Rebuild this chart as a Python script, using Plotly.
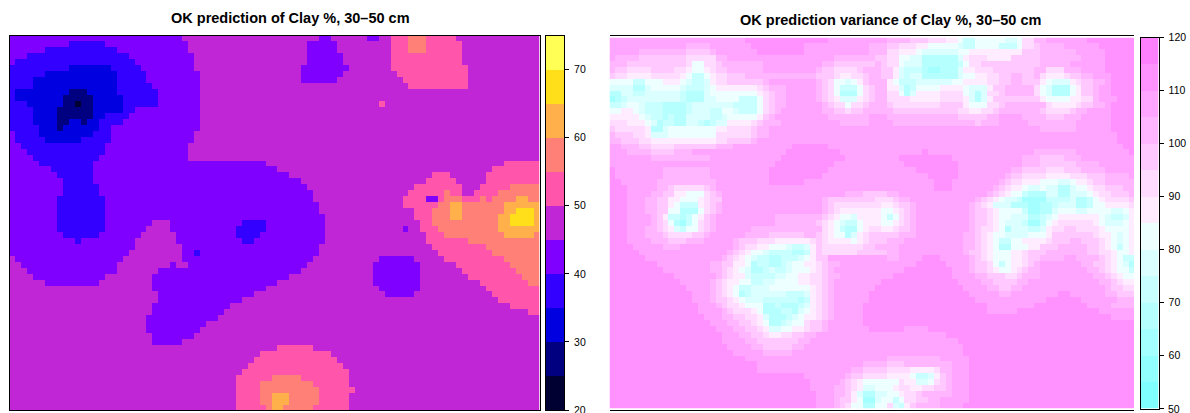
import plotly.graph_objects as go

W, H = 1190, 413
N_COLS = 89

# Band colours
PRED_BREAKS = [20, 25, 30, 35, 40, 45, 50, 55, 60, 65, 70, 75]
PRED_COLORS = ["#000033", "#000080", "#0000E0", "#3300FF", "#8000FF", "#C126D6",
               "#FF55AA", "#FF8077", "#FFB04A", "#FFDF1A", "#FFFF55"]
VAR_BREAKS = [50, 55, 60, 65, 70, 75, 80, 85, 90, 95, 100, 105, 110, 115, 120]
VAR_COLORS = ["#80FFFF", "#92FFFF", "#A4FFFF", "#B6FFFF", "#C8FFFF", "#DBFFFF", "#EDFFFF",
              "#FFEDFF", "#FFDBFF", "#FFC8FF", "#FFB6FF", "#FFA4FF", "#FF92FF", "#FF80FF"]

PRED_TITLE = "OK prediction of Clay %, 30–50 cm"
VAR_TITLE = "OK prediction variance of Clay %, 30–50 cm"
PRED_TICKS = [20, 30, 40, 50, 60, 70]
VAR_TICKS = [50, 60, 70, 80, 90, 100, 110, 120]

# Each token is band:end-column (band 0 = lowest class)
PRED_ROWS = [
"4:29 5:52 4:54 5:60 4:62 5:64 6:67 7:70 6:75 5:89",
"4:10 3:16 4:30 5:50 4:55 5:64 6:67 7:70 6:76 5:89",
"4:6 3:18 4:30 5:50 4:55 5:64 6:67 7:70 6:76 5:89",
"4:3 3:20 4:31 5:50 4:56 5:64 6:76 5:89",
"4:1 3:21 4:31 5:50 4:56 5:64 6:76 5:89",
"3:10 2:17 3:22 4:31 5:49 4:57 5:64 6:77 5:89",
"3:6 2:18 3:23 4:32 5:49 4:56 5:65 6:77 5:89",
"3:4 2:18 3:23 4:32 5:49 4:55 5:66 6:77 5:89",
"3:4 2:18 3:24 4:32 5:67 6:77 5:89",
"3:1 2:10 1:13 2:18 3:25 4:32 5:89",
"3:1 2:9 1:14 2:19 3:25 4:32 5:89",
"3:3 2:9 1:11 0:12 1:14 2:19 3:25 4:32 5:62 6:63 5:89",
"3:4 2:8 1:14 2:19 3:21 4:32 5:89",
"3:4 2:8 1:14 2:16 3:20 4:32 5:89",
"3:4 2:8 1:10 2:12 1:13 2:15 3:19 4:32 5:89",
"3:5 2:8 1:9 2:15 3:17 4:32 5:89",
"4:1 3:5 2:14 3:17 4:31 5:89",
"4:1 3:6 2:12 3:17 4:31 5:89",
"4:2 3:16 4:30 5:89",
"4:3 3:16 4:30 5:89",
"4:4 3:15 4:30 5:89",
"4:5 3:14 4:43 5:83 6:89",
"4:7 3:14 4:45 5:81 6:89",
"4:8 3:14 4:47 5:71 6:74 5:80 6:89",
"4:9 3:14 4:49 5:70 6:75 5:80 6:89",
"4:9 3:15 4:50 5:68 6:76 5:79 6:84 7:89",
"4:9 3:15 4:51 5:67 6:73 7:74 6:76 5:78 6:82 7:89",
"4:8 3:16 4:51 5:66 6:70 4:72 6:73 7:76 6:79 7:80 6:81 7:85 8:87 7:89",
"4:8 3:16 4:52 5:66 6:72 7:74 8:76 7:83 8:89",
"4:8 3:16 4:52 5:68 6:71 7:74 8:76 7:83 8:85 9:88 8:89",
"4:8 3:16 4:53 5:68 6:71 7:74 8:76 7:82 8:84 9:88 8:89",
"4:8 3:16 4:24 5:27 4:39 3:43 4:53 5:69 6:71 7:82 8:84 9:88 8:89",
"4:8 3:16 4:23 5:27 4:38 3:43 4:53 5:66 4:67 5:69 6:72 7:82 8:89",
"4:9 3:15 4:22 5:28 4:38 3:42 4:53 5:70 6:73 7:83 8:88 7:89",
"4:11 3:12 4:21 5:28 4:39 3:41 4:53 5:70 6:77 7:89",
"4:21 5:29 4:52 5:71 6:80 7:89",
"4:20 5:29 4:31 3:32 4:52 5:72 6:81 7:89",
"5:1 4:19 5:29 4:51 5:62 4:68 5:73 6:83 7:89",
"5:2 4:18 5:27 4:28 5:30 4:50 5:61 4:69 5:75 6:84 7:89",
"5:3 4:18 5:25 4:49 5:61 4:69 5:76 6:85 7:89",
"5:4 4:16 5:24 4:47 5:61 4:69 5:77 6:86 7:89",
"5:6 4:15 5:24 4:45 5:61 4:69 5:79 6:87 7:89",
"5:24 4:43 5:62 4:69 5:80 6:89",
"5:25 4:41 5:63 4:68 5:81 6:89",
"5:25 4:39 5:82 6:89",
"5:24 4:37 5:84 6:89",
"5:24 4:36 5:87 6:89",
"5:23 4:35 5:89",
"5:23 4:33 5:89",
"5:23 4:32 5:89",
"5:24 4:31 5:89",
"5:24 4:29 5:89",
"5:45 6:51 5:89",
"5:42 6:54 5:89",
"5:41 6:55 5:89",
"5:40 6:56 5:89",
"5:39 6:57 5:89",
"5:38 6:44 7:49 6:57 5:89",
"5:38 6:42 7:51 6:57 5:89",
"5:38 6:42 7:52 6:58 5:89",
"5:38 6:42 7:44 8:47 7:52 6:57 5:89",
"5:38 6:42 7:44 8:47 7:52 6:57 5:89",
"5:38 6:43 7:44 8:46 7:51 6:57 5:89",
]

VAR_ROWS = [
"b:23 c:37 b:47 a:51 9:54 8:57 7:59 6:60 4:62 6:67 5:69 6:70 8:72 a:74 b:81 c:89",
"b:13 a:17 b:24 c:33 b:44 a:47 9:49 8:52 7:54 6:59 5:60 4:62 6:66 4:69 6:70 8:72 9:73 a:77 b:83 c:89",
"b:5 a:13 9:17 a:18 b:25 c:33 b:44 a:47 8:49 7:52 6:53 5:59 6:61 7:70 9:73 a:79 b:84 c:89",
"b:1 a:5 9:13 8:18 a:20 b:38 a:45 9:47 8:49 6:51 5:53 3:59 5:60 7:61 8:64 7:68 9:73 a:80 b:84 c:89",
"a:3 9:13 8:14 6:16 8:18 9:19 a:26 b:36 a:38 9:45 a:46 9:47 8:49 6:50 5:53 3:59 4:60 6:61 8:63 9:73 a:78 b:84 c:89",
"a:1 9:3 8:7 9:11 8:13 7:14 6:16 7:17 8:18 9:20 a:26 b:35 a:36 9:38 8:42 9:43 a:46 9:48 7:49 5:50 4:53 3:54 2:56 3:59 5:60 7:62 8:65 9:72 a:74 8:77 a:80 b:84 c:89",
"9:1 8:3 7:7 8:12 7:13 6:14 4:16 6:17 7:18 8:20 9:23 a:35 9:38 8:39 7:41 8:43 9:44 a:46 9:48 7:49 5:50 4:51 5:53 3:59 5:60 6:62 7:64 8:66 9:68 a:70 9:72 a:73 8:74 7:77 8:78 9:80 a:82 b:85 c:89",
"6:4 4:6 6:9 7:12 6:13 5:14 4:16 5:17 7:18 8:20 9:26 a:27 b:35 a:36 9:37 8:38 6:40 5:41 6:42 7:43 9:44 a:47 7:48 6:49 4:52 5:58 6:60 7:64 8:66 9:68 a:70 9:73 7:74 6:75 5:78 7:79 8:80 9:82 a:84 b:85 c:89",
"5:4 3:6 5:7 6:12 5:13 4:16 5:17 6:18 7:25 8:26 9:27 a:30 b:35 a:36 9:37 8:38 6:39 4:42 6:43 8:44 9:45 a:47 7:49 5:50 3:51 4:52 6:56 7:60 6:61 5:64 7:65 9:67 a:72 8:73 6:74 5:75 3:78 6:79 7:80 9:82 a:83 b:85 c:89",
"3:2 5:4 4:6 5:12 4:13 3:16 5:17 6:25 7:26 8:27 9:28 a:30 b:35 a:36 9:37 8:38 6:39 3:42 6:43 8:44 9:45 a:47 8:49 6:50 3:51 5:52 7:56 8:60 6:61 5:62 3:63 5:64 8:66 9:67 a:72 8:73 6:74 5:75 3:78 6:79 7:80 9:82 a:83 b:85 c:89",
"2:1 3:2 4:3 5:12 4:13 3:16 5:18 6:22 4:25 6:26 8:27 9:28 a:30 b:35 a:36 9:37 8:38 7:39 5:42 7:43 8:44 9:45 a:47 8:51 7:56 8:60 7:61 5:62 3:63 5:64 7:65 9:73 7:74 6:78 7:80 8:82 9:82 a:83 b:86 c:89",
"4:2 5:3 6:5 5:6 4:9 3:13 4:14 5:21 4:25 6:26 8:27 9:28 a:30 b:36 a:37 9:38 8:40 6:41 8:43 9:44 a:47 9:48 8:56 9:60 7:61 6:64 8:66 9:67 a:74 8:75 7:79 8:80 9:82 a:84 b:85 c:89",
"6:2 7:4 6:5 5:6 4:9 3:13 4:14 5:17 4:19 6:21 5:22 4:25 6:26 8:27 9:28 a:29 b:36 a:38 9:40 8:41 9:43 a:48 9:59 8:61 7:63 8:65 9:66 a:73 9:74 8:78 9:79 a:81 b:85 c:89",
"7:5 6:6 5:7 4:9 3:10 4:11 3:13 5:17 4:19 5:20 6:25 7:26 9:27 a:28 b:37 a:44 b:47 a:59 9:64 a:66 b:70 a:74 9:77 a:80 b:85 c:89",
"8:3 7:6 6:7 5:8 3:9 4:11 3:13 5:15 4:16 3:17 4:18 5:20 7:24 8:25 9:26 a:29 b:39 a:44 b:48 a:62 9:63 a:66 b:71 a:79 b:85 c:89",
"9:1 8:6 7:7 3:9 5:10 6:18 7:20 8:24 9:25 a:27 b:73 a:79 b:85 c:89",
"a:1 9:4 8:6 7:7 5:10 6:18 8:24 9:25 a:27 b:86 c:89",
"a:2 9:5 8:7 7:18 8:20 9:24 a:25 b:86 c:89",
"b:2 a:5 9:7 8:11 9:18 a:21 b:31 c:37 b:87 c:89",
"b:3 a:7 9:11 a:14 b:30 c:39 b:53 c:54 b:72 a:79 b:88 c:89",
"b:7 a:17 b:29 c:40 b:49 c:58 b:70 a:73 9:77 a:80 b:89",
"b:28 c:38 b:50 c:59 b:70 a:73 9:79 a:83 b:89",
"c:1 b:9 a:17 b:27 c:37 b:52 c:59 b:68 a:70 9:74 8:77 9:80 a:84 b:89",
"c:1 b:9 a:17 b:27 c:36 b:54 c:59 b:67 a:68 9:70 8:74 7:78 8:81 9:84 a:88 b:89",
"c:2 b:8 a:18 b:27 c:33 b:55 c:58 b:66 a:67 9:68 8:70 7:73 6:76 5:78 6:79 7:81 8:82 9:84 a:89",
"c:3 b:8 a:10 9:11 8:16 9:17 a:18 b:55 c:58 b:65 a:66 9:67 8:68 7:70 6:71 5:73 6:74 5:76 3:78 5:79 6:81 7:82 8:84 9:87 a:89",
"c:3 b:7 a:9 9:11 7:13 6:16 8:17 9:18 a:19 b:40 a:43 9:47 a:49 b:64 a:65 9:66 8:67 7:68 6:70 4:71 3:74 5:76 3:78 5:81 6:82 7:83 8:85 9:88 a:89",
"c:3 b:6 a:8 9:10 7:12 6:15 7:16 8:17 9:19 b:36 a:37 9:45 8:48 9:49 a:51 b:62 a:63 9:64 8:65 7:66 6:67 5:69 4:70 2:74 4:78 5:79 3:81 4:82 6:83 7:84 8:88 9:89",
"c:3 b:6 a:8 9:10 7:11 6:12 4:15 7:16 8:17 9:18 a:19 b:36 a:37 9:38 8:46 7:48 8:49 9:51 a:52 b:61 a:62 9:63 8:64 7:65 5:68 3:71 2:73 3:75 4:76 5:79 3:81 4:82 6:84 7:88 8:89",
"c:3 b:6 a:8 9:10 6:12 3:15 6:16 8:17 9:18 a:19 b:36 a:37 9:38 8:39 7:46 6:48 7:49 8:50 9:51 a:52 b:61 a:62 9:64 8:65 7:66 6:70 4:71 2:73 3:75 5:76 6:79 5:81 6:85 5:87 6:88 7:89",
"c:3 b:7 a:8 9:9 7:10 4:12 3:13 4:14 6:15 7:16 9:17 a:18 b:28 a:36 9:37 8:38 7:39 6:41 5:42 7:46 6:47 4:48 6:49 8:50 9:51 a:52 b:61 a:62 9:64 8:65 7:66 6:68 5:71 3:73 4:74 5:75 6:76 7:83 6:84 5:85 4:87 5:88 7:89",
"c:3 b:7 a:8 9:9 8:10 6:11 3:12 2:13 4:14 6:15 8:16 9:17 a:18 b:28 a:35 9:36 8:37 7:38 6:39 5:40 4:42 6:43 7:46 6:48 7:49 8:50 9:51 a:52 b:61 a:62 9:64 8:65 7:66 6:67 5:70 4:71 2:73 4:74 6:75 7:76 8:82 7:83 6:84 5:87 6:88 7:89",
"c:3 b:6 a:8 9:9 8:10 7:11 5:12 4:13 6:15 8:16 9:17 a:18 b:24 a:36 8:37 7:38 6:39 4:40 3:42 6:43 7:44 8:46 7:48 8:49 9:51 a:52 b:61 a:62 9:63 8:65 7:66 6:67 3:68 5:71 4:73 5:74 7:75 8:77 9:79 8:83 7:84 6:88 7:89",
"c:3 b:6 a:9 9:10 8:14 9:16 a:17 b:23 a:27 9:33 a:35 9:36 8:37 7:38 6:40 3:41 5:42 7:43 8:44 9:49 a:52 b:60 a:62 9:63 8:64 7:65 6:67 5:71 6:74 7:75 9:82 8:83 7:85 6:86 5:87 6:88 7:89",
"c:3 b:7 a:10 9:13 a:16 b:21 a:22 9:25 8:28 7:34 8:35 9:36 8:37 7:41 6:42 7:43 8:44 9:47 a:50 b:60 a:62 9:63 8:64 7:65 6:66 4:68 6:70 7:74 8:75 9:78 a:80 9:83 8:84 7:85 6:86 5:87 6:88 7:89",
"c:4 b:9 a:12 b:21 a:22 9:23 8:25 7:27 6:30 5:31 4:33 5:34 7:35 9:36 8:43 9:45 a:49 b:60 a:62 9:63 8:64 7:65 6:66 3:68 6:71 7:73 9:76 a:81 9:83 8:84 7:85 6:86 4:87 6:88 7:89",
"c:5 b:20 a:21 9:22 8:23 7:24 6:26 5:27 4:31 3:33 4:34 7:35 9:36 8:42 9:47 a:49 b:60 a:61 9:63 8:64 7:65 6:68 7:70 8:71 9:74 a:81 9:83 8:85 7:86 6:88 7:89",
"c:6 b:19 a:20 9:21 8:22 7:23 6:24 5:25 4:27 3:29 4:32 5:33 6:34 7:35 9:37 b:47 a:49 b:53 c:56 b:61 a:62 9:63 8:64 7:65 6:68 7:70 8:71 9:73 a:77 b:79 a:83 9:84 8:85 7:86 6:87 4:89",
"c:8 b:17 a:19 9:21 7:23 6:24 3:25 4:27 3:29 4:30 5:31 6:33 7:35 8:36 9:37 a:39 b:52 c:57 b:61 a:62 9:64 8:65 6:66 4:67 6:68 7:70 8:71 9:72 a:73 b:80 a:82 9:84 8:85 7:86 6:87 5:88 3:89",
"c:9 b:17 a:19 9:20 8:21 7:22 6:23 5:24 3:26 4:27 5:28 4:30 5:31 6:34 7:35 8:36 9:37 a:38 b:50 c:58 b:61 a:62 9:64 8:65 7:66 6:68 7:69 8:70 9:71 a:73 b:81 a:83 9:84 8:85 7:86 6:88 4:89",
"c:11 b:18 a:19 9:20 8:21 7:23 5:24 4:28 5:30 6:32 7:34 8:36 9:37 a:39 b:48 c:58 b:62 a:64 9:67 8:69 9:70 a:73 b:82 a:84 9:85 8:86 7:87 6:89",
"c:12 b:17 a:18 9:19 8:20 7:22 6:24 4:26 5:28 6:32 7:34 8:36 9:37 a:38 b:46 c:59 b:63 a:65 9:69 a:71 b:83 a:85 9:86 8:87 7:89",
"c:13 b:17 a:18 9:19 8:20 7:21 6:22 4:24 5:27 6:34 7:35 8:36 9:37 a:38 b:45 c:60 b:64 a:66 9:68 a:70 b:84 a:85 9:87 8:89",
"c:14 b:17 a:18 9:19 8:20 7:21 6:22 3:23 4:24 5:30 4:33 5:34 7:35 8:36 9:37 a:38 b:44 c:61 b:66 a:68 b:76 c:78 b:84 a:86 9:89",
"c:14 b:17 a:18 9:20 8:21 7:22 6:23 5:26 4:32 3:33 4:34 7:35 8:36 9:37 a:38 b:44 c:62 b:74 c:80 b:86 a:89",
"c:15 b:18 a:19 9:20 8:22 7:23 6:26 3:28 4:29 3:32 4:33 5:34 7:35 8:36 9:37 a:38 b:43 c:64 b:72 c:81 b:85 a:89",
"c:15 b:19 a:20 9:21 8:24 7:25 6:26 3:29 4:31 3:32 5:33 6:34 7:35 8:36 9:37 a:38 b:43 c:64 b:69 c:83 b:89",
"c:16 b:19 a:21 9:23 8:25 7:26 5:27 3:30 4:31 5:32 6:33 7:35 8:36 9:37 a:38 b:43 c:85 b:89",
"c:17 b:20 a:22 9:24 8:25 7:26 6:27 3:29 4:30 5:31 6:33 8:34 9:36 a:37 b:43 c:89",
"c:18 b:21 a:23 9:25 8:26 7:27 5:29 6:31 7:33 8:34 9:36 a:37 b:44 c:50 b:54 c:89",
"c:19 b:22 a:24 9:26 8:27 7:29 8:31 9:33 a:35 b:57 c:89",
"c:19 b:23 a:25 9:32 a:34 b:59 c:89",
"c:20 b:24 a:26 9:31 a:33 b:60 c:89",
"c:21 b:26 a:31 b:60 c:89",
"c:23 b:47 a:56 b:61 c:89",
"c:25 b:43 a:47 9:50 a:58 b:61 c:89",
"c:25 b:41 a:43 9:47 8:51 7:55 8:56 a:58 b:61 c:89",
"c:33 b:40 a:41 9:43 8:47 7:51 6:52 4:54 5:55 7:56 9:57 a:58 b:61 c:89",
"c:34 b:39 a:40 9:41 8:42 7:43 6:49 8:50 7:52 5:54 6:55 8:56 9:57 a:58 b:61 c:89",
"c:34 b:38 a:40 9:41 8:42 7:43 5:45 6:48 7:49 8:51 7:53 8:55 9:57 a:58 b:61 c:89",
"c:35 b:38 a:40 9:41 7:42 5:43 3:45 5:47 6:49 7:50 8:52 9:53 a:58 b:61 c:89",
"c:35 b:38 a:39 9:41 7:42 6:43 2:45 5:46 6:48 4:49 6:50 8:52 9:54 a:56 b:61 c:89",
"c:35 b:38 a:39 9:40 8:41 6:43 3:45 6:47 8:48 5:49 4:50 7:51 9:52 a:56 b:60 c:89",
]


def expand(rows, breaks):
    grid = []
    for row in rows:
        cells = []
        for token in row.split():
            band, end = token.split(":")
            band, end = int(band, 16), int(end)
            mid = (breaks[band] + breaks[band + 1]) / 2
            cells.extend([mid] * max(0, end - len(cells)))
        grid.append((cells + [cells[-1]] * N_COLS)[:N_COLS])
    return grid


def stepped(colors):
    n = len(colors)
    scale = []
    for i, c in enumerate(colors):
        scale += [[i / n, c], [(i + 1) / n, c]]
    return scale


def dom_x(a, b):
    return [a / W, b / W]


def dom_y(top, bottom):
    return [1 - bottom / H, 1 - top / H]


fig = go.Figure()
panels = [
    (PRED_ROWS, PRED_BREAKS, PRED_COLORS, "x", "y", "x3", "y3"),
    (VAR_ROWS, VAR_BREAKS, VAR_COLORS, "x2", "y2", "x4", "y4"),
]
for rows, breaks, colors, xa, ya, xb, yb in panels:
    fig.add_trace(go.Heatmap(
        z=expand(rows, breaks), x0=0.5, dx=1, y0=0.5, dy=1,
        zmin=breaks[0], zmax=breaks[-1], colorscale=stepped(colors), zsmooth=False,
        xaxis=xa, yaxis=ya, hoverinfo="skip", showscale=False,
    ))
    mids = [(a + b) / 2 for a, b in zip(breaks[:-1], breaks[1:])]
    fig.add_trace(go.Heatmap(
        z=[[m] for m in mids], x=[0], y=mids,
        zmin=breaks[0], zmax=breaks[-1], colorscale=stepped(colors), zsmooth=False,
        xaxis=xb, yaxis=yb, hoverinfo="skip", showscale=False,
    ))

TICK_FONT = dict(family="Liberation Sans", size=10.5, color="#000000")
TITLE_FONT = dict(family="Liberation Sans", size=14.5, color="#000000")

axis_style = dict(showticklabels=False, ticks="", showgrid=False, zeroline=False, automargin=False,
                  showline=True, mirror=True, linecolor="#000000", linewidth=1)
bar_x_style = dict(showticklabels=False, ticks="", showgrid=False, zeroline=False, automargin=False,
                   showline=True, mirror=True, linecolor="#000000", linewidth=1, range=[-0.5, 0.5])
bar_y_style = dict(side="right", ticks="outside", ticklen=4, tickwidth=1, tickcolor="#000000",
                   ticklabelstandoff=3, showgrid=False, zeroline=False, showline=True, mirror=True,
                   linecolor="#000000", automargin=False, linewidth=1, tickfont=TICK_FONT)
fig.update_layout(
    width=W, height=H, autosize=False, margin=dict(l=0, r=0, t=0, b=0, pad=0, autoexpand=False),
    paper_bgcolor="#FFFFFF", plot_bgcolor="#FFFFFF",
    xaxis=dict(domain=dom_x(9.5, 539.5), range=[0, 89], **axis_style),
    yaxis=dict(domain=dom_y(35.5, 410), range=[63, 0], **axis_style),
    xaxis2=dict(domain=dom_x(609.5, 1134), range=[0, 89], **axis_style),
    yaxis2=dict(domain=dom_y(37.5, 408.5), range=[63, 0], **axis_style),
    xaxis3=dict(domain=dom_x(545.5, 564), anchor="y3", **bar_x_style),
    yaxis3=dict(domain=dom_y(35.5, 410), anchor="x3", range=[PRED_BREAKS[0], PRED_BREAKS[-1]],
                tickvals=PRED_TICKS, **bar_y_style),
    xaxis4=dict(domain=dom_x(1140.5, 1158.5), anchor="y4", **bar_x_style),
    yaxis4=dict(domain=dom_y(37.5, 408.5), anchor="x4", range=[VAR_BREAKS[0], VAR_BREAKS[-1]],
                tickvals=VAR_TICKS, **bar_y_style),
    annotations=[
        dict(text=f"<b>{PRED_TITLE}</b>", x=290 / W, y=1 - 18 / H, xref="paper", yref="paper",
             xanchor="center", yanchor="middle", showarrow=False, font=TITLE_FONT),
        dict(text=f"<b>{VAR_TITLE}</b>", x=890 / W, y=1 - 20.5 / H, xref="paper", yref="paper",
             xanchor="center", yanchor="middle", showarrow=False, font=TITLE_FONT),
        # the lowest tick label of each key sits at the page's bottom edge
        dict(text=str(PRED_TICKS[0]), x=572.5 / W, y=1 - 410 / H, xref="paper", yref="paper",
             xanchor="left", yanchor="middle", showarrow=False, font=TICK_FONT, borderpad=0),
        dict(text=str(VAR_TICKS[0]), x=1167 / W, y=1 - 408.5 / H, xref="paper", yref="paper",
             xanchor="left", yanchor="middle", showarrow=False, font=TICK_FONT, borderpad=0),
    ],
)

fig.write_html("out.html", config={"displayModeBar": False},
               post_script="document.body.style.margin='0';document.body.style.overflow='hidden';")
